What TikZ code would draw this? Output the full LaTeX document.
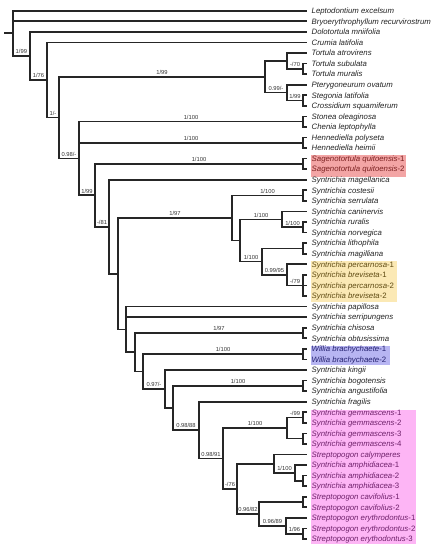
\documentclass[tikz,border=0pt]{standalone}
\usepackage{fontspec}
\setmainfont{Liberation Sans}
\definecolor{linec}{HTML}{262626}
\definecolor{leafc}{HTML}{222222}
\definecolor{labc}{HTML}{333333}
\definecolor{redbox}{HTML}{F3A5A5}
\definecolor{redtxt}{HTML}{7A2020}
\definecolor{yelbox}{HTML}{FBE9B5}
\definecolor{yeltxt}{HTML}{5E4A12}
\definecolor{blubox}{HTML}{B7B5F2}
\definecolor{blutxt}{HTML}{23206E}
\definecolor{pinkbox}{HTML}{FDB5F5}
\definecolor{pinktxt}{HTML}{6E1F6A}
\begin{document}
\begin{tikzpicture}[x=1pt, y=-10.566pt, shift={(0pt,-10.7pt)},
  br/.style={draw=linec, line width=1.7pt},
  lf/.style={anchor=west, inner xsep=4.5pt, inner ysep=0pt, text height=5.6pt, text depth=0pt, font=\fontsize{7.8}{9}\selectfont\itshape, text=leafc},
  bs/.style={pos=0.75, above, inner sep=1.3pt, font=\fontsize{5.8}{7}\selectfont, text=labc}]
\useasboundingbox (0,-1.0127) rectangle (440,51.04);
% highlight boxes
\fill[redbox] (311,13.66) rectangle (406,15.74);
\fill[yelbox] (311,23.69) rectangle (397,27.57);
\fill[blubox] (311,31.73) rectangle (390,33.53);
\fill[pinkbox] (311,37.79) rectangle (416,50.47);
% leaves
\node[lf] (l0) at (307,0) {Leptodontium excelsum};
\node[lf] (l1) at (307,1) {Bryoerythrophyllum recurvirostrum};
\node[lf] (l2) at (307,2) {Dolotortula mniifolia};
\node[lf] (l3) at (307,3) {Crumia latifolia};
\node[lf] (l4) at (307,4) {Tortula atrovirens};
\node[lf] (l5) at (307,5) {Tortula subulata};
\node[lf] (l6) at (307,6) {Tortula muralis};
\node[lf] (l7) at (307,7) {Pterygoneurum ovatum};
\node[lf] (l8) at (307,8) {Stegonia latifolia};
\node[lf] (l9) at (307,9) {Crossidium squamiferum};
\node[lf] (l10) at (307,10) {Stonea oleaginosa};
\node[lf] (l11) at (307,11) {Chenia leptophylla};
\node[lf] (l12) at (307,12) {Hennediella polyseta};
\node[lf] (l13) at (307,13) {Hennediella heimii};
\node[lf, text=redtxt] (l14) at (307,14) {Sagenotortula quitoensis{\upshape -1}};
\node[lf, text=redtxt] (l15) at (307,15) {Sagenotortula quitoensis{\upshape -2}};
\node[lf] (l16) at (307,16) {Syntrichia magellanica};
\node[lf] (l17) at (307,17) {Syntrichia costesii};
\node[lf] (l18) at (307,18) {Syntrichia serrulata};
\node[lf] (l19) at (307,19) {Syntrichia caninervis};
\node[lf] (l20) at (307,20) {Syntrichia ruralis};
\node[lf] (l21) at (307,21) {Syntrichia norvegica};
\node[lf] (l22) at (307,22) {Syntrichia lithophila};
\node[lf] (l23) at (307,23) {Syntrichia magilliana};
\node[lf, text=yeltxt] (l24) at (307,24) {Syntrichia percarnosa{\upshape -1}};
\node[lf, text=yeltxt] (l25) at (307,25) {Syntrichia breviseta{\upshape -1}};
\node[lf, text=yeltxt] (l26) at (307,26) {Syntrichia percarnosa{\upshape -2}};
\node[lf, text=yeltxt] (l27) at (307,27) {Syntrichia breviseta{\upshape -2}};
\node[lf] (l28) at (307,28) {Syntrichia papillosa};
\node[lf] (l29) at (307,29) {Syntrichia serripungens};
\node[lf] (l30) at (307,30) {Syntrichia chisosa};
\node[lf] (l31) at (307,31) {Syntrichia obtusissima};
\node[lf, text=blutxt] (l32) at (307,32) {Willia brachychaete{\upshape -1}};
\node[lf, text=blutxt] (l33) at (307,33) {Willia brachychaete{\upshape -2}};
\node[lf] (l34) at (307,34) {Syntrichia kingii};
\node[lf] (l35) at (307,35) {Syntrichia bogotensis};
\node[lf] (l36) at (307,36) {Syntrichia angustifolia};
\node[lf] (l37) at (307,37) {Syntrichia fragilis};
\node[lf, text=pinktxt] (l38) at (307,38) {Syntrichia gemmascens{\upshape -1}};
\node[lf, text=pinktxt] (l39) at (307,39) {Syntrichia gemmascens{\upshape -2}};
\node[lf, text=pinktxt] (l40) at (307,40) {Syntrichia gemmascens{\upshape -3}};
\node[lf, text=pinktxt] (l41) at (307,41) {Syntrichia gemmascens{\upshape -4}};
\node[lf, text=pinktxt] (l42) at (307,42) {Streptopogon calymperes};
\node[lf, text=pinktxt] (l43) at (307,43) {Syntrichia amphidiacea{\upshape -1}};
\node[lf, text=pinktxt] (l44) at (307,44) {Syntrichia amphidiacea{\upshape -2}};
\node[lf, text=pinktxt] (l45) at (307,45) {Syntrichia amphidiacea{\upshape -3}};
\node[lf, text=pinktxt] (l46) at (307,46) {Streptopogon cavifolius{\upshape -1}};
\node[lf, text=pinktxt] (l47) at (307,47) {Streptopogon cavifolius{\upshape -2}};
\node[lf, text=pinktxt] (l48) at (307,48) {Streptopogon erythrodontus{\upshape -1}};
\node[lf, text=pinktxt] (l49) at (307,49) {Streptopogon erythrodontus{\upshape -2}};
\node[lf, text=pinktxt] (l50) at (307,50) {Streptopogon erythodontus{\upshape -3}};
% internal nodes
\coordinate (stub) at (4,2.14);
\coordinate (root) at (12.7,2.14);
\coordinate (nA) at (30,4.28);
\coordinate (nB) at (47,6.56);
\coordinate (nC) at (59,10.12);
\coordinate (nW) at (265,6.25);
\coordinate (nX) at (287,4.75);
\coordinate (nY) at (303,5.5);
\coordinate (nZ) at (287,7.75);
\coordinate (nS1) at (303,8.5);
\coordinate (nD) at (79,13.99);
\coordinate (nSt) at (303,10.5);
\coordinate (nHe) at (303,12.5);
\coordinate (nE) at (95,17.47);
\coordinate (nSa) at (303,14.5);
\coordinate (nF) at (109,20.45);
\coordinate (nG) at (118,24.89);
\coordinate (nAA) at (232,19.625);
\coordinate (nCo) at (303,17.5);
\coordinate (nAB) at (240,21.75);
\coordinate (nAC) at (282,19.75);
\coordinate (nAD) at (303,20.5);
\coordinate (nAE) at (262,23.75);
\coordinate (nLi) at (303,22.5);
\coordinate (nAF) at (287,25);
\coordinate (nAG) at (303,26);
\coordinate (nH) at (126,30.16);
\coordinate (nI) at (135,32.32);
\coordinate (nCh) at (303,30.5);
\coordinate (nJ) at (143,34.15);
\coordinate (nWi) at (303,32.5);
\coordinate (nK) at (165,35.80);
\coordinate (nL) at (173,37.59);
\coordinate (nBo) at (303,35.5);
\coordinate (nM) at (199,39.69);
\coordinate (nN) at (223,42.375);
\coordinate (nPg) at (287,39.5);
\coordinate (nP1) at (303,38.5);
\coordinate (nP2) at (303,40.5);
\coordinate (nO) at (237,45.25);
\coordinate (nQ) at (274,42.875);
\coordinate (nR) at (295,43.75);
\coordinate (nSam) at (303,44.5);
\coordinate (nT) at (259,47.625);
\coordinate (nCav) at (303,46.5);
\coordinate (nU) at (286,48.75);
\coordinate (nV) at (303,49.5);
% branches
\draw[br] (stub) -- (root);
\draw[br] (root) |- (l0.west);
\draw[br] (root) |- (l1.west);
\draw[br] (root) |- node[bs]{1/99} (nA);
\draw[br] (nA) |- (l2.west);
\draw[br] (nA) |- node[bs]{1/76} (nB);
\draw[br] (nB) |- (l3.west);
\draw[br] (nB) |- node[bs]{1/-} (nC);
\draw[br] (nC) |- node[bs]{1/99} (nW);
\draw[br] (nC) |- node[bs]{0.98/-} (nD);
\draw[br] (nW) |- (nX);
\draw[br] (nW) |- node[bs]{0.99/-} (nZ);
\draw[br] (nX) |- (l4.west);
\draw[br] (nX) |- node[bs]{-/70} (nY);
\draw[br] (nY) |- (l5.west);
\draw[br] (nY) |- (l6.west);
\draw[br] (nZ) |- (l7.west);
\draw[br] (nZ) |- node[bs]{1/99} (nS1);
\draw[br] (nS1) |- (l8.west);
\draw[br] (nS1) |- (l9.west);
\draw[br] (nD) |- node[bs]{1/100} (nSt);
\draw[br] (nD) |- node[bs]{1/100} (nHe);
\draw[br] (nD) |- node[bs]{1/99} (nE);
\draw[br] (nSt) |- (l10.west);
\draw[br] (nSt) |- (l11.west);
\draw[br] (nHe) |- (l12.west);
\draw[br] (nHe) |- (l13.west);
\draw[br] (nE) |- node[bs]{1/100} (nSa);
\draw[br] (nE) |- node[bs]{-/81} (nF);
\draw[br] (nSa) |- (l14.west);
\draw[br] (nSa) |- (l15.west);
\draw[br] (nF) |- (l16.west);
\draw[br] (nF) |- (nG);
\draw[br] (nG) |- node[bs]{1/97} (nAA);
\draw[br] (nG) |- (nH);
\draw[br] (nAA) |- node[bs]{1/100} (nCo);
\draw[br] (nAA) |- (nAB);
\draw[br] (nCo) |- (l17.west);
\draw[br] (nCo) |- (l18.west);
\draw[br] (nAB) |- node[bs]{1/100} (nAC);
\draw[br] (nAB) |- node[bs]{1/100} (nAE);
\draw[br] (nAC) |- (l19.west);
\draw[br] (nAC) |- node[bs]{1/100} (nAD);
\draw[br] (nAD) |- (l20.west);
\draw[br] (nAD) |- (l21.west);
\draw[br] (nAE) |- (nLi);
\draw[br] (nAE) |- node[bs]{0.99/95} (nAF);
\draw[br] (nLi) |- (l22.west);
\draw[br] (nLi) |- (l23.west);
\draw[br] (nAF) |- (l24.west);
\draw[br] (nAF) |- node[bs]{-/79} (nAG);
\draw[br] (nAG) |- (l25.west);
\draw[br] (nAG) |- (l26.west);
\draw[br] (nAG) |- (l27.west);
\draw[br] (nH) |- (l28.west);
\draw[br] (nH) |- (l29.west);
\draw[br] (nH) |- (nI);
\draw[br] (nI) |- node[bs]{1/97} (nCh);
\draw[br] (nI) |- (nJ);
\draw[br] (nCh) |- (l30.west);
\draw[br] (nCh) |- (l31.west);
\draw[br] (nJ) |- node[bs]{1/100} (nWi);
\draw[br] (nJ) |- node[bs]{0.97/-} (nK);
\draw[br] (nWi) |- (l32.west);
\draw[br] (nWi) |- (l33.west);
\draw[br] (nK) |- (l34.west);
\draw[br] (nK) |- (nL);
\draw[br] (nL) |- node[bs]{1/100} (nBo);
\draw[br] (nL) |- node[bs]{0.98/88} (nM);
\draw[br] (nBo) |- (l35.west);
\draw[br] (nBo) |- (l36.west);
\draw[br] (nM) |- (l37.west);
\draw[br] (nM) |- node[bs]{0.98/91} (nN);
\draw[br] (nN) |- node[bs]{1/100} (nPg);
\draw[br] (nN) |- node[bs]{-/76} (nO);
\draw[br] (nPg) |- node[bs]{-/99} (nP1);
\draw[br] (nPg) |- (nP2);
\draw[br] (nP1) |- (l38.west);
\draw[br] (nP1) |- (l39.west);
\draw[br] (nP2) |- (l40.west);
\draw[br] (nP2) |- (l41.west);
\draw[br] (nO) |- (nQ);
\draw[br] (nO) |- node[bs]{0.96/82} (nT);
\draw[br] (nQ) |- (l42.west);
\draw[br] (nQ) |- node[bs]{1/100} (nR);
\draw[br] (nR) |- (l43.west);
\draw[br] (nR) |- (nSam);
\draw[br] (nSam) |- (l44.west);
\draw[br] (nSam) |- (l45.west);
\draw[br] (nT) |- (nCav);
\draw[br] (nT) |- node[bs]{0.96/89} (nU);
\draw[br] (nCav) |- (l46.west);
\draw[br] (nCav) |- (l47.west);
\draw[br] (nU) |- (l48.west);
\draw[br] (nU) |- node[bs]{1/96} (nV);
\draw[br] (nV) |- (l49.west);
\draw[br] (nV) |- (l50.west);
\end{tikzpicture}
\end{document}
